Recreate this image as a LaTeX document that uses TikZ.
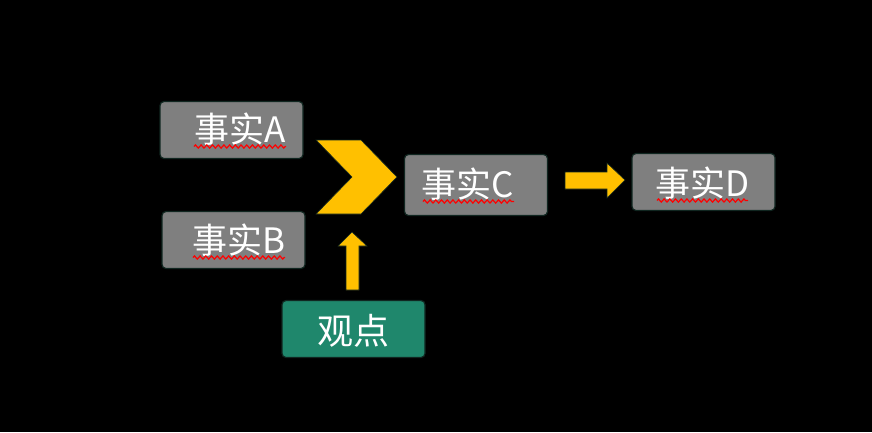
\documentclass[tikz,border=0pt]{standalone}
\usepackage{fontspec}
\setmainfont{Noto Sans CJK SC}
\usetikzlibrary{decorations.pathmorphing}
\definecolor{boxgray}{RGB}{127,127,127}
\definecolor{viewgreen}{RGB}{31,135,108}
\definecolor{arrowyellow}{RGB}{255,192,0}
\definecolor{glow}{RGB}{16,38,32}

\begin{document}
\begin{tikzpicture}[x=1pt, y=-1pt,
    fact/.style={draw=glow, line width=1.2pt, fill=boxgray, rounded corners=4pt,
                 minimum width=143pt, minimum height=57pt, inner sep=0pt},
    view/.style={fact, fill=viewgreen},
    word/.style={text=white, font=\fontsize{35}{38}\selectfont, inner sep=0pt},
    squiggle/.style={draw=red, line width=1.2pt,
                     decorate, decoration={zigzag, segment length=5.7pt, amplitude=1.6pt}},
    yellowarrow/.style={fill=arrowyellow, draw=glow, line width=0.6pt}]
    \useasboundingbox[fill=black] (0,0) rectangle (872,432);
    % Define the boxes
    \node[fact] (A) at (231.5,130) {};
    \node[fact] (B) at (233.5,240) {};
    \node[fact, minimum height=61pt] (C) at (476,185) {};
    \node[fact] (D) at (703.5,182) {};
    \node[view] (V) at (353.5,329) {};
    % Define the texts
    \node[word] (A text) at (240.5,129) {事实A};
    \node[word] (B text) at (238.5,240) {事实B};
    \node[word] (C text) at (467.5,184) {事实C};
    \node[word] (D text) at (702.5,183) {事实D};
    \node[word, font=\fontsize{36}{38}\selectfont] (V text) at (353.5,331) {观点};
    % Spell check marks
    \coordinate (A1) at (194,146.5); \coordinate (A2) at (286,146.5);
    \coordinate (B1) at (193,257.5); \coordinate (B2) at (285,257.5);
    \coordinate (C1) at (423,201.5); \coordinate (C2) at (514,201.5);
    \coordinate (D1) at (657,200.5); \coordinate (D2) at (748,200.5);
    \draw[squiggle] (A1) -- (A2);
    \draw[squiggle] (B1) -- (B2);
    \draw[squiggle] (C1) -- (C2);
    \draw[squiggle] (D1) -- (D2);
    % Define the arrows
    \draw[yellowarrow] (316,140) -- (361,140) -- (397,177) -- (361,214)
        -- (316,214) -- (352,177) -- cycle;
    \draw[yellowarrow] (346,290) -- (346,246) -- (338,246) -- (352,232)
        -- (367,246) -- (359,246) -- (359,290) -- cycle;
    \draw[yellowarrow] (565,172) -- (607,172) -- (607,163) -- (625,180)
        -- (607,198) -- (607,189) -- (565,189) -- cycle;
\end{tikzpicture}
\end{document}
